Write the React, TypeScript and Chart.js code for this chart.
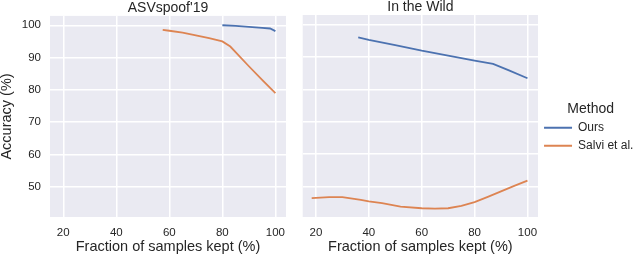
import React, { useEffect, useRef } from "react";
import { Chart, registerables } from "chart.js";

Chart.register(...registerables);

// ---- data ----
const panelTitles = ["ASVspoof'19", "In the Wild"];
const methodNames = ["Ours", "Salvi et al."];
const legendTitle = "Method";
const xAxisTitle = "Fraction of samples kept (%)";
const yAxisTitle = "Accuracy (%)";
const xTicks = [20, 40, 60, 80, 100];
const yTicks = [50, 60, 70, 80, 90, 100];

const asvOursX = [80, 85, 90, 95, 98, 100];
const asvOursY = [100.0, 99.8, 99.5, 99.2, 99.0, 98.2];
const asvSalviX = [57.5, 60, 65, 70, 75, 80, 83, 90, 95, 100];
const asvSalviY = [98.6, 98.3, 97.7, 96.9, 96.0, 95.0, 93.4, 87.3, 83.1, 79.0];

const itwOursX = [36, 40, 50, 60, 70, 80, 87, 93, 100];
const itwOursY = [96.0, 95.2, 93.6, 91.9, 90.4, 88.8, 87.8, 85.8, 83.4];
const itwSalviX = [18.4, 25, 30, 37, 40, 45, 52, 60, 65, 70, 75, 80, 85, 90, 95, 100];
const itwSalviY = [46.4, 46.7, 46.7, 45.9, 45.4, 44.9, 43.8, 43.3, 43.2, 43.3, 44.0, 45.2, 46.8, 48.5, 50.2, 51.8];

const oursX = [asvOursX, itwOursX];
const oursY = [asvOursY, itwOursY];
const salviX = [asvSalviX, itwSalviX];
const salviY = [asvSalviY, itwSalviY];

// ---- styles ----
const FONT = "'Liberation Sans', Arial, sans-serif";
const TEXT = "#262626";
const BLUE = "#4c72b0";
const ORANGE = "#dd8452";
const PANEL_BG = "#eaeaf2";

const toPts = (xs: number[], ys: number[]) => xs.map((x, i) => ({ x, y: ys[i] }));

const bgPlugin = {
  id: "panelBg",
  beforeDraw(chart: any) {
    const { ctx, chartArea: a } = chart;
    ctx.save();
    ctx.fillStyle = PANEL_BG;
    ctx.fillRect(a.left, a.top, a.right - a.left, a.bottom - a.top);
    ctx.restore();
  },
};

function makeConfig(idx: number): any {
  const isLeft = idx === 0;
  const lineDs = (label: string, color: string, xs: number[], ys: number[]) => ({
    label,
    data: toPts(xs, ys),
    borderColor: color,
    backgroundColor: color,
    borderWidth: 1.8,
    pointRadius: 0,
    tension: 0,
    fill: false,
  });
  return {
    type: "line",
    data: {
      datasets: [
        lineDs(methodNames[0], BLUE, oursX[idx], oursY[idx]),
        lineDs(methodNames[1], ORANGE, salviX[idx], salviY[idx]),
      ],
    },
    plugins: [bgPlugin],
    options: {
      responsive: false,
      animation: false,
      devicePixelRatio: 1,
      layout: { padding: isLeft ? { left: 0, right: 14, top: 0, bottom: 0 } : { left: 0, right: 0.6, top: 0, bottom: 0 } },
      plugins: {
        tooltip: { enabled: false },
        title: {
          display: true,
          text: panelTitles[idx],
          fullSize: false,
          color: TEXT,
          font: { family: FONT, size: 14, weight: "normal", lineHeight: 1 },
          padding: { top: 0, bottom: 1 },
        },
        legend: isLeft
          ? { display: false }
          : {
              display: true,
              position: "right",
              align: "center",
              maxWidth: 200,
              labels: {
                boxWidth: 28,
                boxHeight: 2,
                padding: 6,
                color: TEXT,
                font: { family: FONT, size: 12, lineHeight: 1 },
                generateLabels: (chart: any) =>
                  chart.data.datasets.map((d: any, i: number) => ({
                    text: d.label,
                    fillStyle: d.borderColor,
                    strokeStyle: d.borderColor,
                    lineWidth: 0,
                    hidden: false,
                    datasetIndex: i,
                    fontColor: TEXT,
                  })),
              },
              title: {
                display: true,
                text: legendTitle,
                color: TEXT,
                font: { family: FONT, size: 14, lineHeight: 1 },
                padding: { top: 4, bottom: -0.6 },
              },
            },
      },
      scales: {
        x: {
          type: "linear",
          min: 15,
          max: 104,
          afterBuildTicks: (s: any) => {
            s.ticks = xTicks.map((v) => ({ value: v }));
          },
          afterFit: (s: any) => {
            s.height = 39;
          },
          grid: { color: "#ffffff", lineWidth: 1.5, drawTicks: false },
          border: { display: false },
          ticks: { color: TEXT, font: { family: FONT, size: 11.5 }, padding: 9, maxRotation: 0, autoSkip: false },
          title: {
            display: true,
            text: xAxisTitle,
            color: TEXT,
            font: { family: FONT, size: 14.5, lineHeight: 1 },
            padding: { top: 0, bottom: 2 },
          },
        },
        y: {
          type: "linear",
          min: 40.6,
          max: 102.9,
          afterBuildTicks: (s: any) => {
            s.ticks = yTicks.map((v) => ({ value: v }));
          },
          afterFit: (s: any) => {
            s.width = isLeft ? 50 : 2.7;
          },
          grid: { color: "#ffffff", lineWidth: 1.5, drawTicks: false },
          border: { display: false },
          ticks: { display: isLeft, color: TEXT, font: { family: FONT, size: 11.5 }, padding: 9, autoSkip: false },
          title: {
            display: isLeft,
            text: yAxisTitle,
            color: TEXT,
            font: { family: FONT, size: 14.5, lineHeight: 1 },
            padding: { top: 0, bottom: 0 },
          },
        },
      },
    },
  };
}

function Panel({ idx, left, width }: { idx: number; left: number; width: number }) {
  const ref = useRef<HTMLCanvasElement | null>(null);
  useEffect(() => {
    if (!ref.current) return;
    const chart = new Chart(ref.current, makeConfig(idx));
    return () => chart.destroy();
  }, [idx]);
  return (
    <canvas
      ref={ref}
      width={width}
      height={256}
      style={{ position: "absolute", left, top: 0, width, height: 256, display: "block" }}
    />
  );
}

export default function App() {
  return (
    <div
      style={{
        position: "fixed",
        left: 0,
        top: 0,
        width: 640,
        height: 256,
        overflow: "hidden",
        background: "#ffffff",
      }}
    >
      <Panel idx={0} left={0} width={300} />
      <Panel idx={1} left={300} width={344} />
    </div>
  );
}
